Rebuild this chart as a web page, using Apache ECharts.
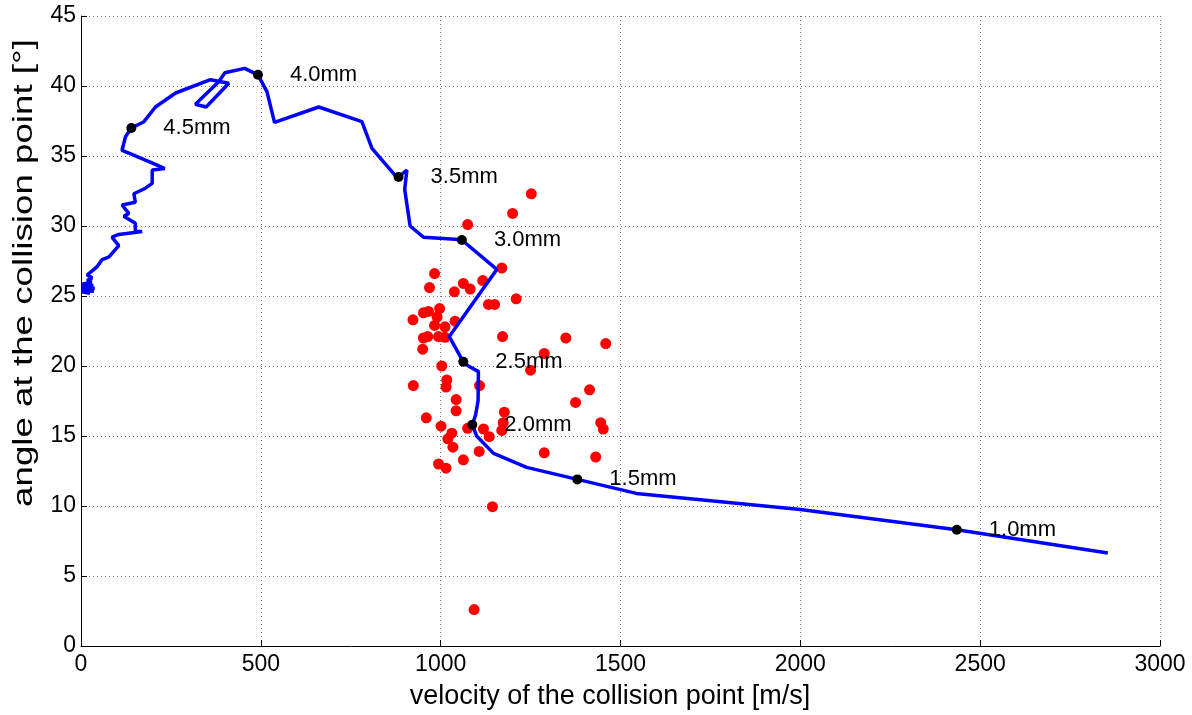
<!DOCTYPE html>
<html><head><meta charset="utf-8">
<script src="https://cdn.jsdelivr.net/npm/echarts@6/dist/echarts.min.js"></script>
<style>html,body{margin:0;padding:0;background:#fff}#c{width:1192px;height:715px}</style>
</head><body><div id="c"></div>
<script>
// Blue trajectory (velocity m/s, angle deg)
const curveV = [25,2,36,2,38,3,34,4,30,17,31,17,36,45,59,78,105,86,105,170,151,151,119,133,114,151,147,179,198,198,233,207,133,114,124,140,175,207,263,360,411,348,318,383,400,455,492,517,538,661,781,809,874,883,906,900,915,952,1040,1059,1156,1024,1063,1077,1105,1104,1097,1088,1100,1147,1239,1380,1544,2000,2435,2855];
const curveA = [25.2,25.3,25.35,25.45,25.55,25.65,25.75,25.85,26.0,26.1,26.3,26.5,26.9,27.1,27.6,27.8,28.6,29.2,29.4,29.6,29.6,30.2,30.7,30.9,31.5,31.7,32.3,32.7,33.05,34.0,34.1,34.4,35.2,35.4,36.4,37.0,37.45,38.5,39.5,40.45,40.2,38.5,38.7,40.3,40.95,41.26,40.8,39.6,37.4,38.5,37.45,35.55,33.6,33.5,34.0,32.6,30.0,29.2,29.05,29.0,26.9,22.1,20.3,20.0,19.6,17.5,16.5,15.8,15.0,13.76,12.76,11.9,10.9,9.75,8.3,6.65];

// Thickness markers
const markLabels = ["4.5mm","4.0mm","3.5mm","3.0mm","2.5mm","2.0mm","1.5mm","1.0mm"];
const markV = [140,492,883,1059,1063,1088,1380,2435];
const markA = [37.0,40.8,33.5,29.0,20.3,15.8,11.9,8.3];

// Red measured points
const dotV = [1252,1200,1075,1170,983,969,1063,1082,1038,1117,1210,1133,1150,997,952,966,923,990,1040,983,1012,952,964,994,1012,950,1172,1348,1459,1288,1250,1003,924,1017,1015,1108,1414,1043,1375,1043,1177,960,1174,1170,1445,1452,1001,1075,1119,1135,1031,1020,1034,1107,1288,1431,1063,994,1015,1144,1093];
const dotA = [32.3,30.9,30.1,27.0,26.6,25.6,25.9,25.5,25.3,26.1,24.8,24.4,24.4,24.1,23.8,23.9,23.3,23.5,23.2,22.9,22.8,22.0,22.1,22.1,22.05,21.2,22.1,22.0,21.6,20.9,19.7,20.0,18.6,19.0,18.5,18.6,18.3,17.6,17.4,16.8,16.7,16.3,15.95,15.4,15.95,15.5,15.7,15.55,15.5,14.95,15.2,14.8,14.2,13.9,13.8,13.5,13.3,13.0,12.7,9.95,2.6];

const xTicks = [0,500,1000,1500,2000,2500,3000];
const yTicks = [0,5,10,15,20,25,30,35,40,45];
const xTitle = 'velocity of the collision point [m/s]';
const yTitle = 'angle at the collision point [°]';

const FONT = 'Liberation Sans, Arial, sans-serif';
const chart = echarts.init(document.getElementById('c'), null, {renderer:'canvas'});
chart.setOption({
  animation:false,
  backgroundColor:'#fff',
  grid: {left:81, right:32, top:16, bottom:69},
  graphic: [
    {type:'text', x:610, y:697, style:{text:xTitle, font:'27px '+FONT, fill:'#000', align:'center', verticalAlign:'middle'}},
    {type:'text', x:25, y:273, rotation:Math.PI/2, scaleX:1.36, style:{text:yTitle, font:'27px '+FONT, fill:'#000', align:'center', verticalAlign:'middle'}}
  ],
  xAxis: {
    type:'value', min:xTicks[0], max:xTicks[xTicks.length-1], interval:500,
    axisLine:{show:true, onZero:false, lineStyle:{color:'#000', width:1}},
    axisTick:{show:true, inside:true, length:6, lineStyle:{color:'#000'}},
    axisLabel:{fontFamily:FONT, fontSize:23, color:'#000', margin:7, formatter:v=>String(v)},
    splitLine:{show:true, lineStyle:{color:'#777', type:[1,3], width:1}}
  },
  yAxis: {
    type:'value', min:yTicks[0], max:yTicks[yTicks.length-1], interval:5,
    axisLine:{show:true, onZero:false, lineStyle:{color:'#000', width:1}},
    axisTick:{show:true, inside:true, length:6, lineStyle:{color:'#000'}},
    axisLabel:{fontFamily:FONT, fontSize:23, color:'#000', margin:5, formatter:v=>String(v)},
    splitLine:{show:true, lineStyle:{color:'#777', type:[1,3], width:1}}
  },
  series: [
    {
      type:'scatter', name:'measured', symbol:'circle', symbolSize:11,
      itemStyle:{color:'#ff0000', opacity:1},
      data: dotV.map((v,i)=>[v, dotA[i]]), z:2
    },
    {
      type:'line', name:'trajectory', showSymbol:false, smooth:false,
      lineStyle:{color:'#0000ff', width:3.5},
      data: curveV.map((v,i)=>[v, curveA[i]]), z:3
    },
    {
      type:'scatter', name:'markers', symbol:'circle', symbolSize:10,
      itemStyle:{color:'#000', opacity:1},
      label:{show:true, position:'right', distance:27, formatter:p=>markLabels[p.dataIndex],
        fontFamily:FONT, fontSize:22, color:'#000', opacity:1},
      data: markV.map((v,i)=>[v, markA[i]]), z:4
    }
  ]
});
</script></body></html>
